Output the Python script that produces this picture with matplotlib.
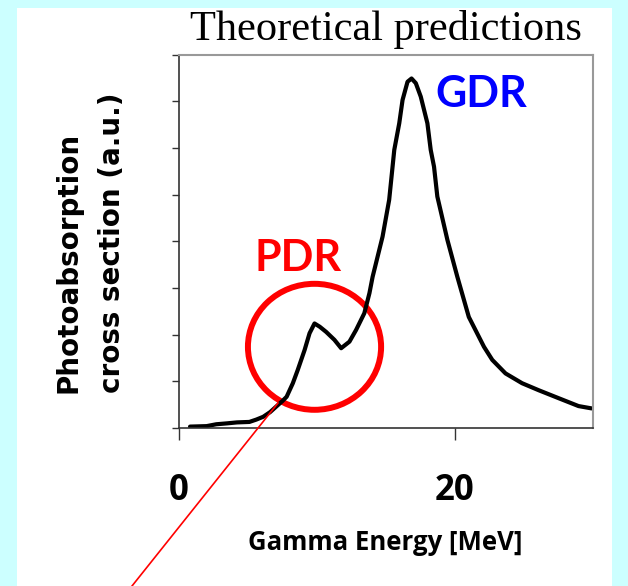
import matplotlib
matplotlib.use('Agg')
import matplotlib.pyplot as plt
from matplotlib.patches import Ellipse, Rectangle
from matplotlib.lines import Line2D

energy = [0.8, 2.0, 2.7, 3.5, 4.2, 5.1, 5.6, 6.1, 6.6, 7.05, 7.5, 7.8, 8.25, 8.6,
          9.1, 9.46, 9.82, 10.2, 10.66, 11.26, 11.75, 12.35, 12.83, 13.43, 13.8,
          14.03, 14.75, 15.23, 15.6, 15.96, 16.2, 16.56, 16.85, 17.16, 17.52, 18.0,
          18.24, 18.48, 18.72, 19.45, 20.17, 21.0, 22.1, 22.7, 23.66, 24.86, 26.06,
          27.5, 28.95, 29.9]
sigma = [0.03, 0.04, 0.08, 0.1, 0.12, 0.13, 0.18, 0.24, 0.34, 0.46, 0.58, 0.67,
         0.96, 1.24, 1.67, 2.03, 2.24, 2.17, 2.06, 1.89, 1.71, 1.85, 2.1, 2.46,
         2.89, 3.24, 4.1, 4.89, 5.96, 6.53, 7.03, 7.42, 7.49, 7.39, 7.1, 6.53,
         5.96, 5.6, 4.96, 4.03, 3.24, 2.38, 1.74, 1.46, 1.17, 0.96, 0.81, 0.64,
         0.47, 0.42]
x_ticks = [0, 20]
y_ticks = list(range(9))

fig = plt.figure(figsize=(6.28, 5.86), dpi=100, facecolor='#ccffff')
# white slide panel
fig.patches.append(Rectangle((17 / 628, 0), 595 / 628, 578 / 586,
                             transform=fig.transFigure, facecolor='white',
                             edgecolor='none', zorder=-5))

ax = fig.add_axes([179 / 628, 158 / 586, 414 / 628, 373.3 / 586])
ax.plot(energy, sigma, color='black', lw=3.0, solid_joinstyle='round',
        solid_capstyle='round')

ax.set_xlim(0, 30)
ax.set_ylim(0, 8)
ax.set_xticks(x_ticks)
ax.set_yticks(y_ticks)
ax.set_yticklabels([])
ax.tick_params(axis='x', length=8.6, width=1, color='#333333', pad=24,
               labelsize=25)
ax.tick_params(axis='y', length=5, width=1, color='#333333')
for lab in ax.get_xticklabels():
    lab.set_fontweight('bold')
    lab.set_family('Open Sans')

for s in ['left', 'bottom']:
    ax.spines[s].set_color('#333333')
    ax.spines[s].set_linewidth(1.2)
for s in ['top', 'right']:
    ax.spines[s].set_color('#999999')
    ax.spines[s].set_linewidth(1.5)

# PDR circle
ax.add_patch(Ellipse((9.82, 1.74), 9.65, 2.7, fill=False, edgecolor='red',
                     lw=4.3, clip_on=False))
ax.text(8.6, 3.65, 'PDR', color='red', fontsize=31, fontweight='bold',
        family='Lato', ha='center', va='center')
ax.text(21.9, 7.15, 'GDR', color='#0000ff', fontsize=31, fontweight='bold',
        family='Lato', ha='center', va='center')

# pointer line running to slide bottom
fig.add_artist(Line2D([278 / 628, 132 / 628], [183 / 586, 0], color='red', lw=1.2))

fig.text(386 / 628, 1 - 40 / 586, 'Theoretical predictions', family='Liberation Serif',
         fontsize=30.5, ha='center', va='baseline')
fig.text(385 / 628, 1 - 542 / 586, 'Gamma Energy [MeV]', fontsize=18.5,
         fontweight='bold', family='Open Sans', ha='center', va='center')
fig.text(90 / 628, 1 - 243 / 586, 'Photoabsorption\ncross section (a.u.)',
         rotation=90, fontsize=20, fontweight='bold', ha='center', va='center',
         multialignment='left', linespacing=1.7)

fig.savefig('out.png', dpi=100, facecolor=fig.get_facecolor())
